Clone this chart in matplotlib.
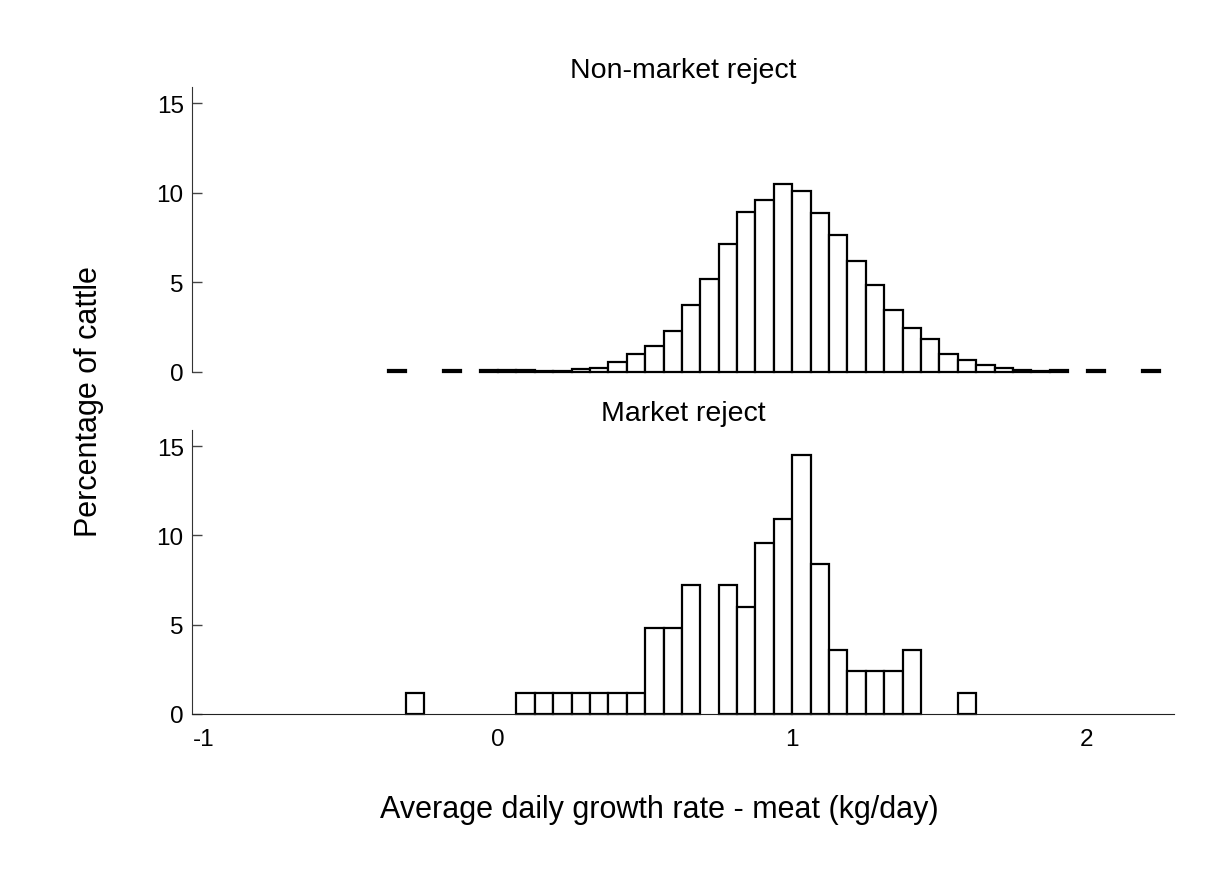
import numpy as np
import matplotlib
matplotlib.use('Agg')
import matplotlib.pyplot as plt

plt.rcParams['font.family'] = ['Liberation Sans', 'DejaVu Sans']
plt.rcParams['axes.unicode_minus'] = False

# Bin width (kg/day) and values (percentage of cattle)
bin_width = 0.0625

# Non-market reject: bins starting at -0.375
top_start = -0.375
top_pct = [0.07, 0, 0, 0.07, 0, 0.07, 0.07, 0.07, 0.04, 0.03,
           0.15, 0.22, 0.52, 0.99, 1.45, 2.29, 3.74, 5.18, 7.13, 8.9,
           9.59, 10.49, 10.1, 8.88, 7.62, 6.17, 4.83, 3.45, 2.44, 1.8,
           1.0, 0.68, 0.39, 0.2, 0.12, 0.05, 0.07, 0, 0.07, 0,
           0, 0.07]

# Market reject: bins starting at -0.3125
bot_start = -0.3125
bot_pct = [1.2, 0, 0, 0, 0, 0, 1.2, 1.2, 1.2, 1.2,
           1.2, 1.2, 1.2, 4.8, 4.8, 7.2, 0, 7.2, 6.0, 9.6,
           10.9, 14.5, 8.4, 3.6, 2.4, 2.4, 2.4, 3.6, 0, 0,
           1.2]

panel_titles = ['Non-market reject', 'Market reject']
yticks = [0, 5, 10, 15]
xticks = [-1, 0, 1, 2]

fig = plt.figure(figsize=(12.09, 8.70), dpi=100)
ax_top = fig.add_axes([0.1588, 0.5716, 0.8122, 0.3273])
ax_bot = fig.add_axes([0.1588, 0.1782, 0.8122, 0.3264])


def draw_hist(ax, start, pct):
    pct = np.array(pct, dtype=float)
    left = start + bin_width * np.arange(len(pct))
    keep = pct > 0
    ax.bar(left[keep], pct[keep], width=bin_width, align='edge',
           facecolor='white', edgecolor='black', linewidth=1.6, clip_on=False)


draw_hist(ax_top, top_start, top_pct)
draw_hist(ax_bot, bot_start, bot_pct)

for ax, title in zip([ax_top, ax_bot], panel_titles):
    ax.set_xlim(-1.04, 2.297)
    ax.set_ylim(0, 15.9)
    ax.set_yticks(yticks)
    ax.tick_params(axis='y', direction='in', length=7, width=1,
                   color='#444444', labelsize=17.5, pad=6)
    ax.spines['top'].set_visible(False)
    ax.spines['right'].set_visible(False)
    ax.spines['left'].set_color('#333333')
    ax.set_title(title, fontsize=20.5, pad=7)

ax_top.spines['bottom'].set_visible(False)
ax_top.set_xticks([])

ax_bot.spines['bottom'].set_color('#222222')
ax_bot.set_xticks(xticks)
ax_bot.tick_params(axis='x', length=0, labelsize=17.5, pad=10)

fig.text(0.0735, 0.539, 'Percentage of cattle', rotation=90,
         ha='center', va='center', fontsize=22)
fig.text(0.545, 0.069, 'Average daily growth rate - meat (kg/day)',
         ha='center', va='center', fontsize=22)

fig.savefig('out.png', dpi=100)
